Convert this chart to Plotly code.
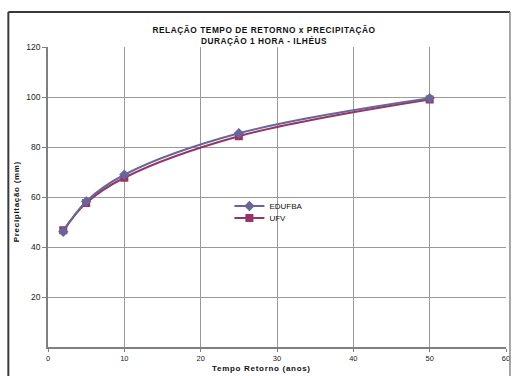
import plotly.graph_objects as go

tempo = [2, 5, 10, 25, 50]
edufba = [46.1, 58.2, 68.9, 85.5, 99.5]
ufv = [46.7, 57.6, 67.7, 84.3, 99.0]
x_ticks = [0, 10, 20, 30, 40, 50, 60]
y_ticks = [20, 40, 60, 80, 100, 120]

title_lines = ["RELAÇÃO TEMPO DE RETORNO x PRECIPITAÇÃO", "DURAÇÃO 1 HORA - ILHÉUS"]
x_title = "Tempo Retorno (anos)"
y_title = "Precipitação (mm)"
font_family = "Liberation Sans, Arial, sans-serif"

def spaced(s, ls):
    return f"<span style='letter-spacing:{ls}px'>{s}</span>"

fig = go.Figure()
fig.add_trace(go.Scatter(
    x=tempo, y=ufv, name="UFV", mode="lines+markers", legend="legend2",
    line=dict(color="#993366", width=2, shape="spline", smoothing=1.0),
    marker=dict(symbol="square", size=8, color="#993366"),
))
fig.add_trace(go.Scatter(
    x=tempo, y=edufba, name="EDUFBA", mode="lines+markers", legend="legend",
    line=dict(color="#666699", width=2, shape="spline", smoothing=1.0),
    marker=dict(symbol="diamond", size=8, color="#666699"),
))

W, H = 515, 376
L, R, T, B = 48, 5, 47, 29
pw, ph = W - L - R, H - T - B

def px(xp):
    return (xp - L) / pw

def py(yp):
    return (H - B - yp) / ph

leg_font = dict(family=font_family, size=8, color="#111")
leg_common = dict(xanchor="left", yanchor="middle", bgcolor="rgba(0,0,0,0)",
                  borderwidth=0, font=leg_font, itemwidth=30)

fig.update_layout(
    width=W, height=H,
    margin=dict(l=L, r=R, t=T, b=B),
    paper_bgcolor="white", plot_bgcolor="white",
    font=dict(family=font_family, size=8, color="#222"),
    title=dict(
        text=spaced(title_lines[0], 0.55) + "<br>" + spaced(title_lines[1], 0.55),
        x=264 / W, xanchor="center",
        y=1 - 33 / H, yanchor="middle",
        font=dict(family=font_family, size=8.3, color="#111", weight="bold"),
    ),
    showlegend=True,
    legend=dict(x=px(231), y=py(206), **leg_common),
    legend2=dict(x=px(231), y=py(218), **leg_common),
    xaxis=dict(
        range=[0, 60], tickvals=x_ticks, ticktext=[str(v) for v in x_ticks],
        showgrid=True, gridcolor="#9a9a9a", gridwidth=1,
        showline=True, linecolor="#808080", linewidth=1.5,
        ticks="outside", ticklen=3, tickcolor="#808080",
        zeroline=False,
        tickfont=dict(family=font_family, size=7.5, color="#222"),
    ),
    yaxis=dict(
        range=[0, 120], tickvals=y_ticks, ticktext=[str(v) for v in y_ticks],
        showgrid=True, gridcolor="#9a9a9a", gridwidth=1,
        showline=True, linecolor="#808080", linewidth=1.5,
        ticks="outside", ticklen=4, tickcolor="#808080",
        zeroline=False,
        tickfont=dict(family=font_family, size=8.5, color="#222"),
    ),
)

# axis titles as annotations (positioned like the original)
fig.add_annotation(text="<b>" + spaced(x_title, 0.7) + "</b>", xref="paper", yref="paper",
                   x=px(263), y=py(368), xanchor="center", yanchor="middle",
                   showarrow=False, font=dict(family=font_family, size=8, color="#111"))
fig.add_annotation(text="<b>" + spaced(y_title, 0.7) + "</b>", xref="paper", yref="paper",
                   x=px(17), y=py(202), xanchor="center", yanchor="middle", textangle=-90,
                   showarrow=False, font=dict(family=font_family, size=8, color="#111"))

# outer chart border (left/top dark, right lighter)
fig.add_shape(type="line", xref="paper", yref="paper",
              x0=px(8), x1=px(8), y0=py(400), y1=py(12),
              line=dict(color="#3a3a3a", width=2))
fig.add_shape(type="line", xref="paper", yref="paper",
              x0=px(8), x1=px(514), y0=py(12), y1=py(12),
              line=dict(color="#3a3a3a", width=2))
fig.add_shape(type="line", xref="paper", yref="paper",
              x0=px(514), x1=px(514), y0=py(400), y1=py(12),
              line=dict(color="#8a8a8a", width=1.5))

fig.write_html("out.html")
